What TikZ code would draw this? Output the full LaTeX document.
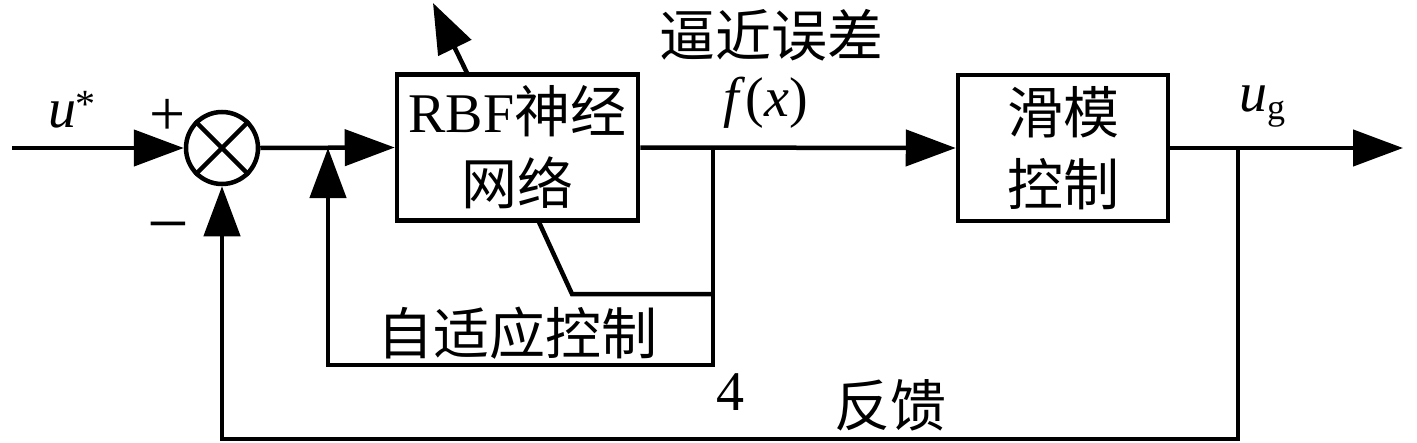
\documentclass[tikz,border=0pt]{standalone}
\usepackage{fontspec}
\setmainfont{Liberation Serif}
\newfontfamily\cjk{Noto Sans CJK SC}
\usetikzlibrary{arrows.meta}
\begin{document}
\begin{tikzpicture}[x=1pt,y=-1pt,
  every path/.style={line width=4.5pt},
  arr/.style={-{Triangle[length=50pt,width=36pt]}},
  blk/.style={draw,line width=4.5pt,minimum width=#1,minimum height=146pt,inner sep=0pt,align=center,font=\fontsize{56}{72}\selectfont},
  lbl/.style={inner sep=0pt,font=\fontsize{56}{66}\selectfont},
  sgn/.style={inner sep=0pt,font=\fontsize{64}{70}\selectfont},
  line join=miter]
\useasboundingbox (0,0) rectangle (1417,442);
% blocks
\node[draw,circle,minimum size=72pt,inner sep=0pt,line width=4.5pt] (sum) at (222,148) {};
\draw[line width=4.5pt] (sum.north west) -- (sum.south east) (sum.north east) -- (sum.south west);
\node[blk=241pt] (rbf) at (517.5,147.5) {RBF{\cjk 神经}\\{\cjk 网络}};
\node[blk=210pt] (smc) at (1063,148) {{\cjk 滑模}\\{\cjk 控制}};
% coordinates
\coordinate (in) at (12,148);
\coordinate (j1) at (328,148);
\coordinate (j1b) at (328,365);
\coordinate (j2) at (713,148);
\coordinate (j2m) at (713,294);
\coordinate (j2b) at (713,365);
\coordinate (d1) at (572,294);
\coordinate (rbfb) at (538,220);
\coordinate (rbft) at (468,75);
\coordinate (tip) at (433,3);
\coordinate (j3) at (1238,148);
\coordinate (j3b) at (1238,439);
\coordinate (fbl) at (222,439);
\coordinate (out) at (1403,148);
% connectors
\draw[arr] (in) -- (sum.west);
\draw[arr] (sum.east) -- (rbf.west);
\draw[arr] (rbf.east) -- (smc.west);
\draw[arr] (smc.east) -- (out);
\draw[arr] (j2) -- (j2b) -- (j1b) -- (j1);
\draw (rbfb) -- (d1) -- (j2m);
\draw[arr] (rbft) -- (tip);
\draw[arr] (j3) -- (j3b) -- (fbl) -- (sum.south);
% labels
\node[lbl] (ustar) at (72,110) {\textit{u}\raisebox{10pt}{\fontsize{40}{40}\selectfont *}};
\node[sgn] (plus) at (168,117) {+};
\node[sgn,font=\fontsize{74}{80}\selectfont] (minus) at (168,235) {−};
\node[lbl] (fx) at (766,103) {\textit{f}(\textit{x})};
\node[lbl] (ug) at (1262,107) {\textit{u}\raisebox{-8pt}{\fontsize{36}{40}\selectfont g}};
\node[lbl] (err) at (771,35) {\cjk 逼近误差};
\node[lbl] (adapt) at (517,333) {\cjk 自适应控制};
\node[lbl] (four) at (730,392) {4};
\node[lbl] (fb) at (890,405) {\cjk 反馈};
\end{tikzpicture}
\end{document}
